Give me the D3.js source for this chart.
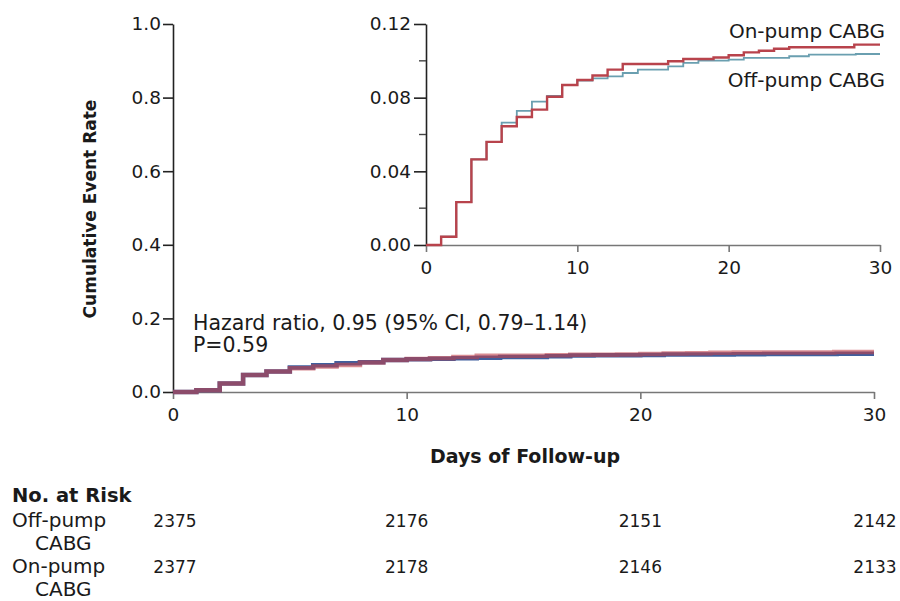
<!DOCTYPE html>
<html>
<head>
<meta charset="utf-8">
<script src="https://cdn.jsdelivr.net/npm/d3@7"></script>
<style>
  body { margin: 0; background: #fff; }
  svg { display: block; }
  text { font-family: "DejaVu Sans", "Open Sans", sans-serif; fill: #1a1a1a; }
</style>
</head>
<body>
<div id="chart"></div>
<script>
// days of follow-up where each step starts, and cumulative event rate after it
const offDays  = [0, 1, 2, 3, 4, 5, 6, 7, 8, 9, 10, 11, 12, 13, 14, 16, 17, 18, 20, 21, 24, 25.3, 28.4, 30];
const offRates = [0, 0.0045, 0.0233, 0.0465, 0.0560, 0.0665, 0.0728, 0.0778, 0.0810, 0.0869, 0.0893, 0.0905, 0.0916, 0.0934, 0.0952, 0.0970, 0.0989, 0.1001, 0.1007, 0.1016, 0.1025, 0.1034, 0.1037, 0.1037];
const onDays   = [0, 1, 2, 3, 4, 5, 6, 7, 8, 9, 10, 11, 12, 13, 16, 17, 19, 20, 21, 22, 23, 24, 28.3, 30];
const onRates  = [0, 0.0045, 0.0233, 0.0465, 0.0560, 0.0645, 0.0695, 0.0735, 0.0805, 0.0869, 0.0896, 0.0920, 0.0952, 0.0983, 0.0998, 0.1010, 0.1018, 0.1030, 0.1046, 0.1055, 0.1066, 0.1074, 0.1088, 0.1088];

const xTicks = [0, 10, 20, 30];
const mainYTicks = [0, 0.2, 0.4, 0.6, 0.8, 1.0];
const insetYTicks = [0, 0.04, 0.08, 0.12];
const insetMinorTicks = [0.02, 0.06, 0.10];

const riskGroups = [["Off-pump", "CABG"], ["On-pump", "CABG"]];
const riskOff = [2375, 2176, 2151, 2142];
const riskOn  = [2377, 2178, 2146, 2133];

const hazardText = "Hazard ratio, 0.95 (95% CI, 0.79\u20131.14)";
const pText = "P=0.59";

const width = 900, height = 601;
const svg = d3.select('#chart').append('svg')
    .attr('width', width)
    .attr('height', height);

const offData = offDays.map((d, i) => [d, offRates[i]]);
const onData = onDays.map((d, i) => [d, onRates[i]]);

// main plot scales
const x = d3.scaleLinear().domain([0, 30]).range([173, 874]);
const y = d3.scaleLinear().domain([0, 1]).range([392, 24]);

// inset scales
const xi = d3.scaleLinear().domain([0, 30]).range([426, 880]);
const yi = d3.scaleLinear().domain([0, 0.12]).range([245, 24]);

function styleAxis(g, color, size) {
    g.selectAll('.domain').attr('stroke', color).attr('stroke-width', 1.6);
    g.selectAll('.tick line').attr('stroke', color).attr('stroke-width', 1.6);
    g.selectAll('.tick text').style('font-size', size + 'px').attr('fill', '#1a1a1a');
}

// main x axis
const gx = svg.append('g')
    .attr('transform', `translate(0,${y(0)})`)
    .call(d3.axisBottom(x).tickValues(xTicks).tickSize(7).tickSizeOuter(0).tickPadding(9));
styleAxis(gx, '#777', 18.5);

// main y axis
const gy = svg.append('g')
    .attr('transform', `translate(${x(0)},0)`)
    .call(d3.axisLeft(y).tickValues(mainYTicks).tickFormat(d3.format('.1f')).tickSize(10).tickSizeOuter(0).tickPadding(2));
styleAxis(gy, '#222', 18.5);

// main curves
const line = d3.line().x(d => x(d[0])).y(d => y(d[1])).curve(d3.curveStepAfter);
svg.append('path').datum(offData)
    .attr('d', line).attr('fill', 'none')
    .attr('stroke', '#3f5f9e').attr('stroke-width', 4.5);
svg.append('path').datum(onData)
    .attr('d', line).attr('fill', 'none')
    .attr('stroke', '#c0404a').attr('stroke-width', 4.5).attr('stroke-opacity', 0.6);

// axis titles
svg.append('text')
    .attr('transform', `translate(96,${y(0.5) + 1}) rotate(-90)`)
    .attr('text-anchor', 'middle')
    .style('font-size', '17px').style('font-weight', 'bold')
    .text('Cumulative Event Rate');
svg.append('text')
    .attr('x', 525).attr('y', 463)
    .attr('text-anchor', 'middle')
    .style('font-size', '19px').style('font-weight', 'bold')
    .text('Days of Follow-up');

// hazard ratio
svg.append('text').attr('x', 193).attr('y', 330).style('font-size', '20.5px').text(hazardText);
svg.append('text').attr('x', 193).attr('y', 352).style('font-size', '20.5px').text(pText);

// inset axes
const gxi = svg.append('g')
    .attr('transform', `translate(0,${yi(0)})`)
    .call(d3.axisBottom(xi).tickValues(xTicks).tickSize(7).tickSizeOuter(0).tickPadding(9));
styleAxis(gxi, '#777', 18.5);

const gyi = svg.append('g')
    .attr('transform', `translate(${xi(0)},0)`)
    .call(d3.axisLeft(yi).tickValues(insetYTicks).tickFormat(d3.format('.2f')).tickSize(12).tickSizeOuter(0).tickPadding(3));
styleAxis(gyi, '#222', 18.5);

svg.append('g').selectAll('line')
    .data(insetMinorTicks)
    .enter().append('line')
    .attr('x1', xi(0) - 7).attr('x2', xi(0))
    .attr('y1', d => yi(d)).attr('y2', d => yi(d))
    .attr('stroke', '#444').attr('stroke-width', 1.4);

// inset curves
const lineI = d3.line().x(d => xi(d[0])).y(d => yi(d[1])).curve(d3.curveStepAfter);
svg.append('path').datum(offData)
    .attr('d', lineI).attr('fill', 'none')
    .attr('stroke', '#6a9fb0').attr('stroke-width', 1.8);
svg.append('path').datum(onData)
    .attr('d', lineI).attr('fill', 'none')
    .attr('stroke', '#b8434c').attr('stroke-width', 2.4);

// inset labels
svg.append('text').attr('x', 885).attr('y', 38).attr('text-anchor', 'end')
    .style('font-size', '20px').text('On-pump CABG');
svg.append('text').attr('x', 885).attr('y', 87).attr('text-anchor', 'end')
    .style('font-size', '20px').text('Off-pump CABG');

// number at risk
svg.append('text').attr('x', 12).attr('y', 502)
    .style('font-size', '19.5px').style('font-weight', 'bold').text('No. at Risk');

const rowY = [527, 573];
riskGroups.forEach((grp, i) => {
    svg.append('text').attr('x', 12).attr('y', rowY[i]).style('font-size', '20px').text(grp[0]);
    svg.append('text').attr('x', 35).attr('y', rowY[i] + 23).style('font-size', '20px').text(grp[1]);
});

[riskOff, riskOn].forEach((vals, i) => {
    svg.append('g').selectAll('text')
        .data(vals)
        .enter().append('text')
        .attr('x', (d, j) => x(xTicks[j]) + (j === 0 ? 2 : j === 3 ? 1 : 0))
        .attr('y', rowY[i])
        .attr('text-anchor', 'middle')
        .style('font-size', '17px')
        .text(d => d);
});
</script>
</body>
</html>
